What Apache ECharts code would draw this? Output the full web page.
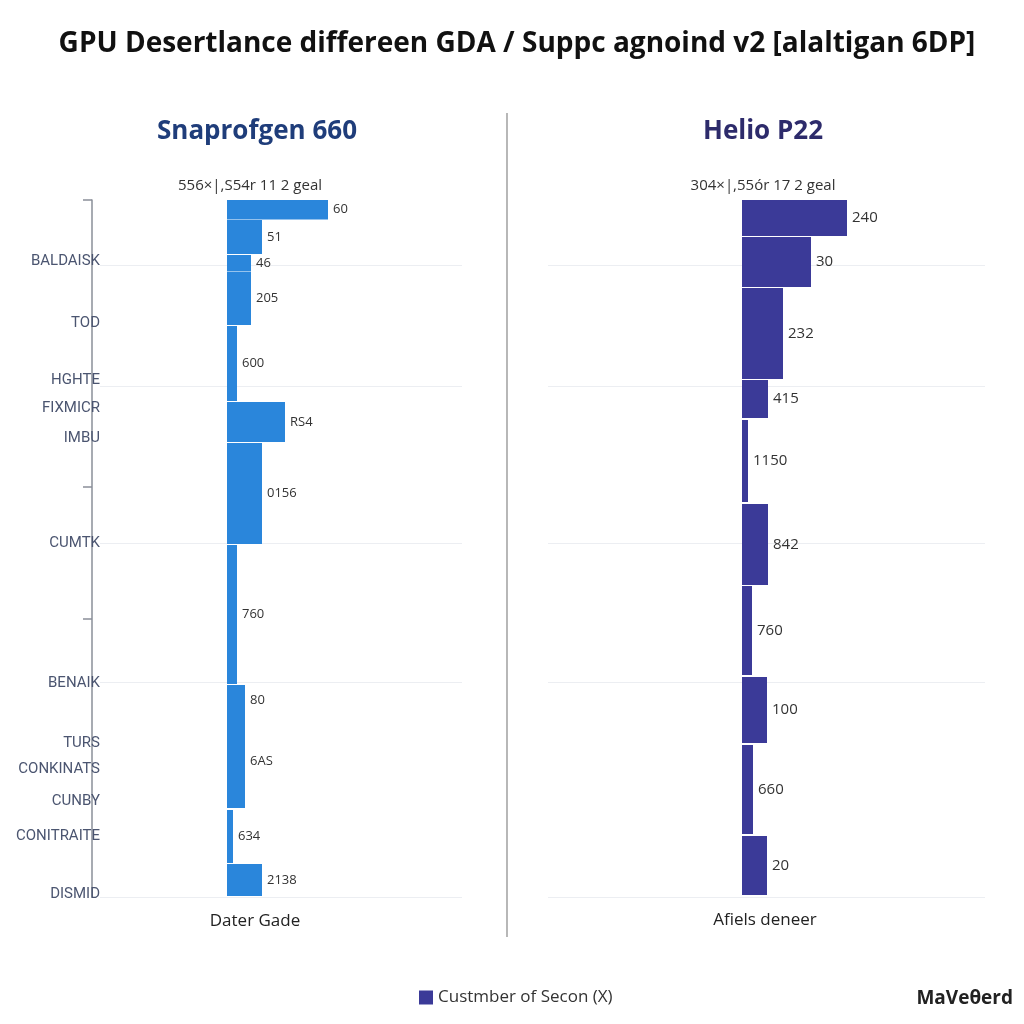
<!DOCTYPE html>
<html>
<head>
<meta charset="utf-8">
<script src="https://cdn.jsdelivr.net/npm/echarts@6/dist/echarts.min.js"></script>
<style>html,body{margin:0;padding:0;background:#fff}#c{width:1024px;height:1024px}</style>
</head>
<body>
<div id="c"></div>
<script>
// ---- data (band positions along the vertical scale: start / end; bar length: value) ----
const leftValues = [101, 35, 24, 24, 10, 58, 35, 10, 18, 18, 6, 35];
const leftStarts = [0, 20, 55, 72, 126, 202, 243, 345, 485, 515, 610, 664];
const leftEnds   = [19.5, 54, 71.5, 125, 201, 242, 344, 484, 515, 608, 663, 696];
const leftLabels = ['60', '51', '46', '205', '600', 'RS4', '0156', '760', '80', '6AS', '634', '2138'];

const rightValues = [105, 69, 41, 26, 6, 26, 10, 25, 11, 25];
const rightStarts = [0, 37, 88, 180, 220, 304, 386, 477, 545, 636];
const rightEnds   = [36, 87, 179, 218, 302, 385, 475, 543, 634, 695];
const rightLabels = ['240', '30', '232', '415', '1150', '842', '760', '100', '660', '20'];

const categoryNames = ['BALDAISK', 'TOD', 'HGHTE', 'FIXMICR', 'IMBU', 'CUMTK', 'BENAIK', 'TURS', 'CONKINATS', 'CUNBY', 'CONITRAITE', 'DISMID'];
const categoryPos   = [61, 123, 180, 208, 238, 343, 483, 543, 569, 601, 636, 694];
const axisTickPos   = [0, 287, 419];
const gridLinePos   = [65, 186, 343, 482, 697];

const leftColor = '#2a86db';
const rightColor = '#3b3a98';

function makeData(vals, starts, ends) {
  return vals.map((v, i) => [v, starts[i], ends[i]]);
}
function makeRender(color, labels, fontSize) {
  return function (params, api) {
    const v = api.value(0), s = api.value(1), e = api.value(2);
    const p0 = api.coord([0, s]);
    const p1 = api.coord([v, e]);
    return {
      type: 'rect',
      z2: 10,
      shape: { x: p0[0], y: p0[1], width: p1[0] - p0[0], height: p1[1] - p0[1] },
      style: { fill: color },
      textContent: { style: { text: labels[params.dataIndex], fill: '#333', font: fontSize + 'px "Open Sans", sans-serif' } },
      textConfig: { position: 'right', distance: 5 }
    };
  };
}
const catLookup = {};
categoryPos.forEach((p, i) => { catLookup[p] = categoryNames[i]; });

const chart = echarts.init(document.getElementById('c'));
const gl = {
  silent: true, symbol: 'none', z: 0, label: { show: false },
  lineStyle: { color: '#eceef2', type: 'solid', width: 1 },
  data: gridLinePos.map(y => ({ yAxis: y }))
};
chart.setOption({
  backgroundColor: '#ffffff',
  animation: false,
  title: [
    { text: 'GPU Desertlance differeen GDA / Suppc agnoind v2 [alaltigan 6DP]', left: 512, top: 25, textAlign: 'center',
      textStyle: { fontFamily: 'Open Sans', fontWeight: 'bold', fontSize: 28, color: '#111' } },
    { text: 'Snaprofgen 660', left: 252, top: 114, textAlign: 'center',
      textStyle: { fontFamily: 'Open Sans', fontWeight: 'bold', fontSize: 26, color: '#1f3d7a' } },
    { text: 'Helio P22', left: 758, top: 114, textAlign: 'center',
      textStyle: { fontFamily: 'Open Sans', fontWeight: 'bold', fontSize: 26, color: '#2d2b6b' } },
    { text: '556×|,S54r 11 2 geal', left: 245, top: 173, textAlign: 'center',
      textStyle: { fontFamily: 'Open Sans', fontWeight: 'normal', fontSize: 15, color: '#333' } },
    { text: '304×|,55ór 17 2 geal', left: 758, top: 173, textAlign: 'center',
      textStyle: { fontFamily: 'Open Sans', fontWeight: 'normal', fontSize: 15, color: '#333' } },
    { text: 'Dater Gade', left: 250, top: 908, textAlign: 'center',
      textStyle: { fontFamily: 'Open Sans', fontWeight: 'normal', fontSize: 17, color: '#222' } },
    { text: 'Afiels deneer', left: 760, top: 907, textAlign: 'center',
      textStyle: { fontFamily: 'Open Sans', fontWeight: 'normal', fontSize: 17, color: '#222' } },
    { text: 'MaVeθerd', left: 1008, top: 984, textAlign: 'right',
      textStyle: { fontFamily: 'Open Sans', fontWeight: 'bold', fontSize: 19, color: '#222' } }
  ],
  legend: {
    data: ['Custmber of Secon (X)'], left: 414, top: 984, icon: 'rect', itemWidth: 14, itemHeight: 14, itemGap: 10,
    textStyle: { fontFamily: 'Open Sans', fontSize: 17, color: '#333' }
  },
  grid: [
    { left: 100, top: 200, width: 362, height: 697 },
    { left: 548, top: 200, width: 437, height: 697 }
  ],
  xAxis: [
    { gridIndex: 0, type: 'value', min: -127, max: 235, show: false },
    { gridIndex: 1, type: 'value', min: -194, max: 243, show: false }
  ],
  yAxis: [
    { gridIndex: 0, type: 'value', inverse: true, min: 0, max: 697, position: 'left', offset: 8,
      splitLine: { show: false },
      axisLine: { show: true, onZero: false, lineStyle: { color: '#8a8f99', width: 1.5 } },
      axisTick: { show: true, length: 9, customValues: axisTickPos, lineStyle: { color: '#8a8f99', width: 1.5 } },
      axisLabel: { show: true, customValues: categoryPos, margin: -8, formatter: v => catLookup[v] || '',
        fontFamily: 'Liberation Sans Narrow, Roboto, sans-serif', fontSize: 15, color: '#4b5570' } },
    { gridIndex: 1, type: 'value', inverse: true, min: 0, max: 697, show: false }
  ],
  graphic: [
    { type: 'line', shape: { x1: 507, y1: 113, x2: 507, y2: 937 }, style: { stroke: '#888', lineWidth: 1.2 } }
  ],
  series: [
    { name: 'Snaprofgen 660', type: 'custom', xAxisIndex: 0, yAxisIndex: 0, z: 3,
      renderItem: makeRender(leftColor, leftLabels, 13),
      data: makeData(leftValues, leftStarts, leftEnds), markLine: gl, itemStyle: { color: leftColor } },
    { name: 'Custmber of Secon (X)', type: 'custom', xAxisIndex: 1, yAxisIndex: 1, z: 3,
      renderItem: makeRender(rightColor, rightLabels, 15),
      data: makeData(rightValues, rightStarts, rightEnds), markLine: gl, itemStyle: { color: rightColor } }
  ]
});
</script>
</body>
</html>
